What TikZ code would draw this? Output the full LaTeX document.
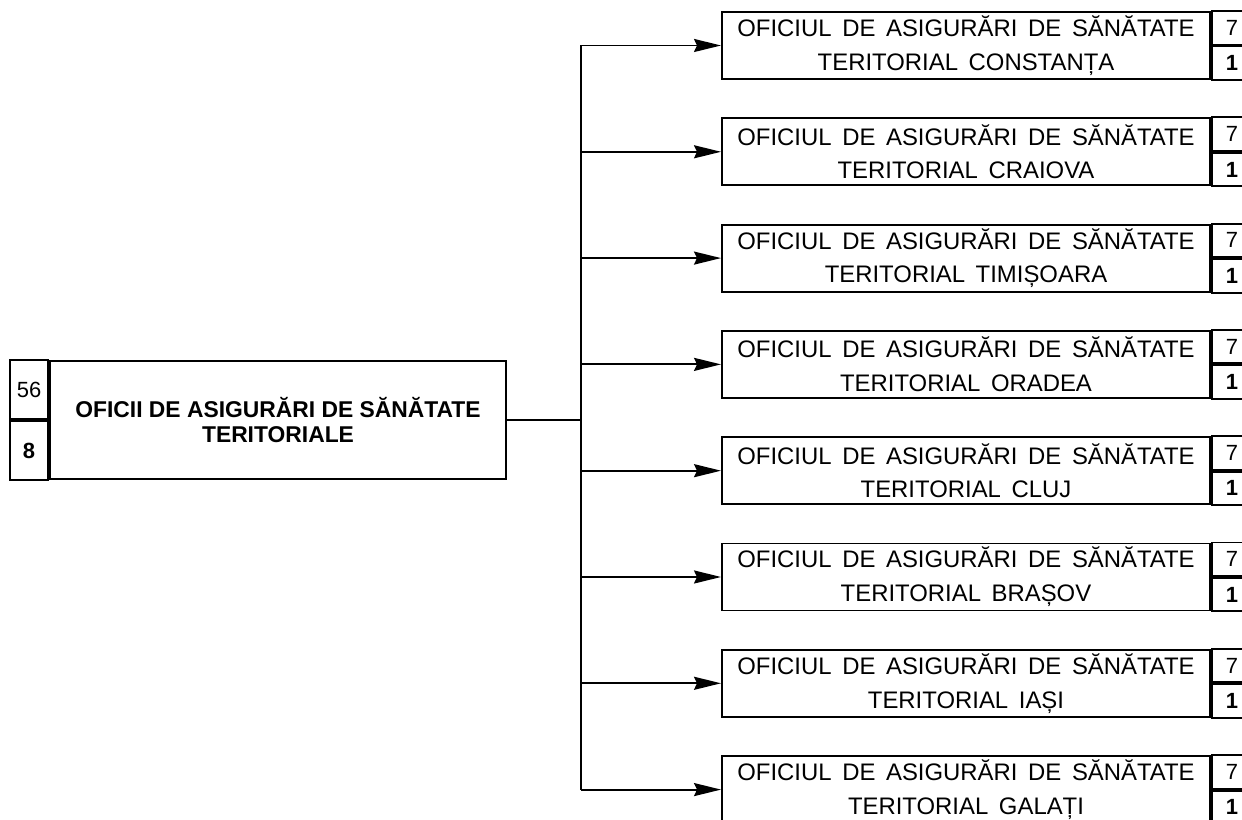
\documentclass[tikz,border=0pt]{standalone}
\usepackage{fontspec}
\setmainfont{Liberation Sans}
\newfontfamily\wideface[WordSpace=1.6]{Liberation Sans}
\usetikzlibrary{arrows.meta, positioning}

\begin{document}
\begin{tikzpicture}[line width=1.1pt,
  casa/.style={draw, rectangle, inner sep=0pt, align=center,
    minimum width=9.76cm, minimum height=1.34cm,
    font=\wideface\fontsize{13.6}{19.2}\selectfont},
  nr/.style={draw, rectangle, inner sep=0pt, minimum width=0.8cm,
    minimum height=0.67cm, font=\fontsize{12.5}{14}\selectfont},
  sageata/.style={-{Stealth[length=0.54cm,width=0.26cm,inset=0.06cm]}}]
  % \draw (0, 0) grid (25, 17);
  \useasboundingbox (0,0) rectangle (24.84,16.4);
  \clip (0,0) rectangle (24.84,16.4);

  % casa din stanga
  \node[draw, rectangle, inner sep=0pt, align=center,
    minimum width=9.12cm, minimum height=2.36cm,
    font=\bfseries\fontsize{13}{14.2}\selectfont] (oficii) at (5.56,8.0)
    {OFICII DE ASIGURĂRI DE SĂNĂTATE\\TERITORIALE};
  \node[nr, minimum width=0.76cm, minimum height=1.18cm, anchor=south east] (nr56) at (oficii.west) {56};
  \node[nr, minimum width=0.76cm, minimum height=1.18cm, anchor=north east] (nr8) at (oficii.west) {\bfseries 8};

  \coordinate (trunchi) at (11.62,8.0);
  \draw (oficii.east) -- (trunchi);

  % oficiile teritoriale
  \foreach \oras [count=\i] in {CONSTANȚA, CRAIOVA, TIMIȘOARA, ORADEA, CLUJ, BRAȘOV, IAȘI, GALAȚI} {
    \node[casa] (oas\i) at (19.32, 17.616-2.126*\i)
      {OFICIUL DE ASIGURĂRI DE SĂNĂTATE\\TERITORIAL \oras};
    \node[nr, anchor=south west] (sus\i) at (oas\i.east) {7};
    \node[nr, anchor=north west] (jos\i) at (oas\i.east) {\bfseries 1};
    \draw[sageata] (trunchi |- oas\i.west) -- (oas\i.west);
  }
  \draw (trunchi |- oas1.west) -- (trunchi |- oas8.west);
\end{tikzpicture}
\end{document}
